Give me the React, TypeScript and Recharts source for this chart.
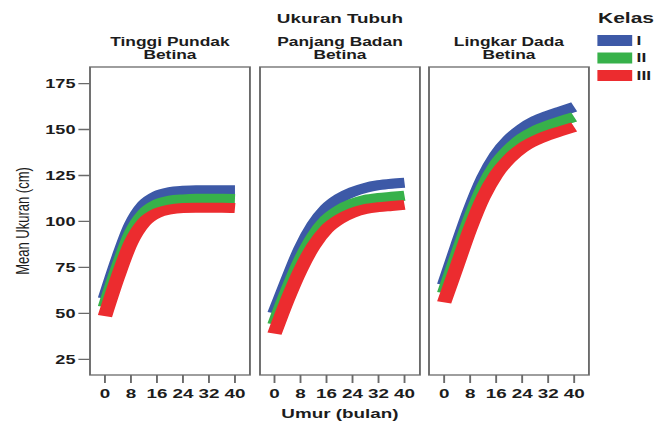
import { LineChart, Line, XAxis, YAxis } from "recharts";

// umur (bulan) and axis ticks
const AGES = [0, 4, 8, 12, 16, 20, 24, 28, 32, 36, 40];
const X_TICKS = [0, 8, 16, 24, 32, 40];
const Y_TICKS = [25, 50, 75, 100, 125, 150, 175];
const KELAS = ["I", "II", "III"];
const COLORS: Record<string, string> = { I: "#3d59a7", II: "#37b14a", III: "#ec2c2f" };

// Tinggi Pundak Betina
const tinggiI = [58, 79.5, 98, 109, 114, 116, 116.7, 117, 117, 117, 117];
const tinggiII = [53.5, 75, 93.5, 104.3, 109.3, 111.3, 112, 112.3, 112.3, 112.3, 112.2];
const tinggiIII = [48.5, 70, 88.5, 99.5, 104.5, 106.5, 107.3, 107.5, 107.5, 107.5, 107.3];

// Panjang Badan Betina
const panjangI = [50, 68, 85, 98, 107, 112.5, 116, 118.3, 119.7, 120.5, 121];
const panjangII = [44, 62.5, 79, 92, 101, 106.3, 109.7, 111.8, 112.8, 113.4, 114];
const panjangIII = [39, 57.5, 73.7, 86.7, 95.8, 101.2, 104.7, 106.8, 107.8, 108.4, 109];

// Lingkar Dada Betina
const lingkarI = [65.5, 86.5, 106.5, 123.5, 136, 144.5, 150.5, 154.7, 157.6, 160, 162.3];
const lingkarII = [61, 81.5, 101.5, 118.5, 131, 139.2, 145.2, 149.3, 152.2, 154.6, 156.8];
const lingkarIII = [56, 76, 96, 113, 125.5, 134, 140, 144, 146.9, 149.2, 151.4];

const buildRows = (a: number[], b: number[], c: number[]) =>
  AGES.map((x, i) => ({ x, I: a[i], II: b[i], III: c[i] }));

const PANELS = [
  { title: "Tinggi Pundak", rows: buildRows(tinggiI, tinggiII, tinggiIII) },
  { title: "Panjang Badan", rows: buildRows(panjangI, panjangII, panjangIII) },
  { title: "Lingkar Dada", rows: buildRows(lingkarI, lingkarII, lingkarIII) },
];

// the reference is stretched sideways, so draw narrow and scale
const STRETCH = 1.45;
const W = 664 / STRETCH;
const H = 423;
const TOP = 67;
const BOTTOM = 375;
const PLOT_W = 110.3;
const PLOT_LEFT = [62.07, 179.31, 295.86];
const X_DOMAIN = [-4.6, 44.6];
const Y_DOMAIN = [16.5, 184];
const AXIS = "#6a6a6a";
const INK = "#1c1c1c";

const Panel = ({ rows, index }: { rows: any[]; index: number }) => {
  const first = index === 0;
  const left = PLOT_LEFT[index];
  const width = first ? left + PLOT_W + 1 : PLOT_W + 2;
  return (
    <div style={{ position: "absolute", top: 0, left: first ? 0 : left - 1 }}>
      <LineChart
        width={width}
        height={H}
        data={rows}
        margin={{ top: TOP, right: 1, bottom: H - BOTTOM - 30, left: 1 }}
      >
        <XAxis
          dataKey="x"
          type="number"
          domain={X_DOMAIN}
          ticks={X_TICKS}
          interval={0}
          allowDataOverflow
          height={30}
          axisLine={false}
          tickSize={8}
          tickMargin={6}
          tickLine={{ stroke: AXIS, strokeWidth: 1.3 }}
          tick={{ fontSize: 13, fontWeight: 700, fill: INK }}
        />
        <YAxis
          type="number"
          domain={Y_DOMAIN}
          ticks={Y_TICKS}
          interval={0}
          allowDataOverflow
          width={first ? left - 1 : 0}
          axisLine={false}
          tick={first ? { fontSize: 12.5, fontWeight: 700, fill: INK } : false}
          tickLine={first ? { stroke: AXIS, strokeWidth: 1.3 } : false}
          tickSize={8}
          tickMargin={2}
        />
        {KELAS.map((k) => (
          <Line
            key={k}
            dataKey={k}
            type="monotone"
            stroke={COLORS[k]}
            strokeWidth={10}
            strokeLinejoin="round"
            dot={false}
            activeDot={false}
            isAnimationActive={false}
          />
        ))}
      </LineChart>
    </div>
  );
};

export default function App() {
  const mid = (i: number) => PLOT_LEFT[i] + PLOT_W / 2;
  return (
    <div
      style={{
        position: "absolute",
        left: 0,
        top: 0,
        width: W,
        height: H,
        background: "#fff",
        fontFamily: "'Liberation Sans', Arial, sans-serif",
        transform: `scaleX(${STRETCH})`,
        transformOrigin: "0 0",
      }}
    >
      {PANELS.map((p, i) => (
        <Panel key={p.title} rows={p.rows} index={i} />
      ))}
      <svg
        width={W}
        height={H}
        style={{ position: "absolute", left: 0, top: 0, pointerEvents: "none" }}
        fill={INK}
      >
        {PLOT_LEFT.map((x) => (
          <rect
            key={x}
            x={x}
            y={TOP}
            width={PLOT_W}
            height={BOTTOM - TOP}
            fill="none"
            stroke={AXIS}
            strokeWidth={1.3}
          />
        ))}
        <text x={mid(1)} y={23} textAnchor="middle" fontSize={13} fontWeight={700}>
          Ukuran Tubuh
        </text>
        {PANELS.map((p, i) => (
          <g key={p.title}>
            <text x={mid(i)} y={46} textAnchor="middle" fontSize={12} fontWeight={700}>
              {p.title}
            </text>
            <text x={mid(i)} y={59.5} textAnchor="middle" fontSize={12} fontWeight={700}>
              Betina
            </text>
          </g>
        ))}
        <text
          transform="translate(15.5 221) rotate(-90)"
          textAnchor="middle"
          dominantBaseline="central"
          fontSize={13}
        >
          Mean Ukuran (cm)
        </text>
        <text x={mid(1)} y={418} textAnchor="middle" fontSize={13} fontWeight={700}>
          Umur (bulan)
        </text>
        <text x={412.4} y={23} fontSize={14.5} fontWeight={700}>
          Kelas
        </text>
        {KELAS.map((k, i) => (
          <g key={k}>
            <rect x={412} y={35 + i * 17.5} width={24} height={11} fill={COLORS[k]} />
            <text x={439} y={45 + i * 17.5} fontSize={12} fontWeight={700}>
              {k}
            </text>
          </g>
        ))}
      </svg>
    </div>
  );
}
